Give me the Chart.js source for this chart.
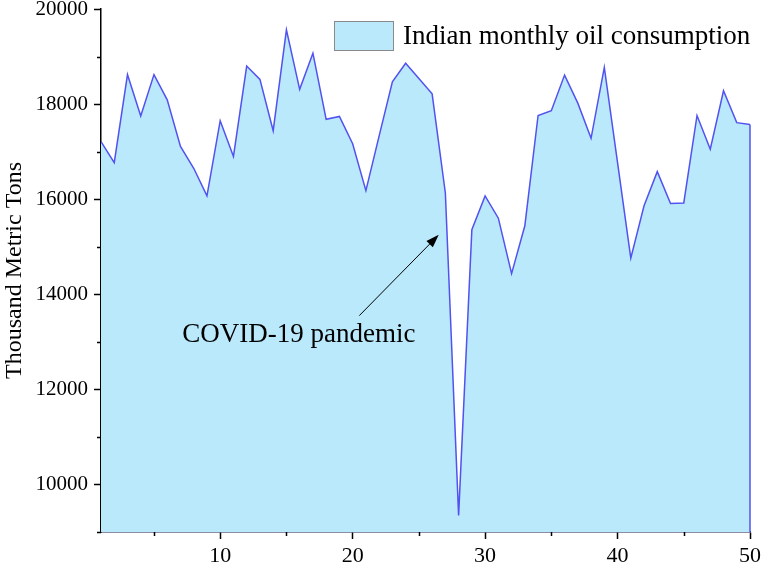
<!DOCTYPE html>
<html>
<head>
<meta charset="utf-8">
<script src="https://cdn.jsdelivr.net/npm/chart.js@4.4.1/dist/chart.umd.min.js"></script>
<style>
  html, body { margin: 0; padding: 0; background: #fff; }
  #wrap { width: 762px; height: 568px; }
</style>
</head>
<body>
<div id="wrap"><canvas id="chart" width="762" height="568"></canvas></div>
<script>
// month index 1..50
const months = [
  1, 2, 3, 4, 5, 6, 7, 8, 9, 10,
  11, 12, 13, 14, 15, 16, 17, 18, 19, 20,
  21, 22, 23, 24, 25, 26, 27, 28, 29, 30,
  31, 32, 33, 34, 35, 36, 37, 38, 39, 40,
  41, 42, 43, 44, 45, 46, 47, 48, 49, 50,
];
const consumption = [
  17210, 16770, 18620, 17750, 18620, 18090, 17110, 16650, 16070, 17650,
  16900, 18800, 18520, 17440, 19560, 18310, 19070, 17680, 17740, 17165,
  16180, 17330, 18470, 18860, 18540, 18215, 16130, 9350, 15360, 16070,
  15600, 14435, 15440, 17760, 17860, 18610, 18020, 17280, 18770, 16770,
  14760, 15860, 16580, 15910, 15920, 17760, 17050, 18280, 17610, 17570,
];
const xMajorTicks = [10, 20, 30, 40, 50];
const xMinorTicks = [5, 15, 25, 35, 45];
const yMajorTicks = [10000, 12000, 14000, 16000, 18000, 20000];
const yMinorTicks = [9000, 11000, 13000, 15000, 17000, 19000];

const serif = '"Liberation Serif", "Times New Roman", serif';
const fillColor = 'rgb(187, 233, 252)';
const lineColor = 'rgb(82, 82, 240)';

// minor ticks, right edge of the area, legend and the covid arrow
const extras = {
  id: 'extras',
  afterDatasetsDraw(chart) {
    const { ctx, chartArea, scales: { x, y } } = chart;
    ctx.save();

    // closing edge of the filled area on the right
    const lastX = x.getPixelForValue(months[months.length - 1]);
    ctx.strokeStyle = lineColor;
    ctx.lineWidth = 1.5;
    ctx.beginPath();
    ctx.moveTo(lastX, y.getPixelForValue(consumption[consumption.length - 1]));
    ctx.lineTo(lastX, chartArea.bottom);
    ctx.stroke();

    // minor ticks
    ctx.strokeStyle = '#000';
    ctx.lineWidth = 1.5;
    ctx.beginPath();
    yMinorTicks.forEach((v) => {
      const py = Math.round(y.getPixelForValue(v)) + 0.5;
      ctx.moveTo(chartArea.left, py);
      ctx.lineTo(chartArea.left - 4, py);
    });
    xMinorTicks.forEach((v) => {
      const px = Math.round(x.getPixelForValue(v)) + 0.5;
      ctx.moveTo(px, chartArea.bottom);
      ctx.lineTo(px, chartArea.bottom + 4);
    });
    ctx.stroke();

    // annotation arrow
    const tx = x.getPixelForValue(20.5), ty = y.getPixelForValue(13550);
    const hx = x.getPixelForValue(26.5), hy = y.getPixelForValue(15250);
    const ang = Math.atan2(hy - ty, hx - tx);
    ctx.strokeStyle = '#000';
    ctx.lineWidth = 1;
    ctx.beginPath();
    ctx.moveTo(tx, ty);
    ctx.lineTo(hx - 10 * Math.cos(ang), hy - 10 * Math.sin(ang));
    ctx.stroke();
    ctx.fillStyle = '#000';
    ctx.beginPath();
    ctx.moveTo(hx, hy);
    ctx.lineTo(hx - 13 * Math.cos(ang) + 4.5 * Math.sin(ang), hy - 13 * Math.sin(ang) - 4.5 * Math.cos(ang));
    ctx.lineTo(hx - 13 * Math.cos(ang) - 4.5 * Math.sin(ang), hy - 13 * Math.sin(ang) + 4.5 * Math.cos(ang));
    ctx.closePath();
    ctx.fill();

    ctx.font = '27px ' + serif;
    ctx.textAlign = 'left';
    ctx.textBaseline = 'alphabetic';
    ctx.fillText('COVID-19 pandemic', x.getPixelForValue(7.13), y.getPixelForValue(12990));

    // legend
    const bx = chartArea.right - 416, by = chartArea.top + 12;
    ctx.fillStyle = fillColor;
    ctx.fillRect(bx, by, 59, 29);
    ctx.strokeStyle = '#8a8a8a';
    ctx.lineWidth = 1;
    ctx.strokeRect(bx + 0.5, by + 0.5, 59, 29);
    ctx.fillStyle = '#000';
    ctx.textBaseline = 'middle';
    ctx.fillText(chart.data.datasets[0].label, bx + 69, by + 16);

    ctx.restore();
  },
};

new Chart(document.getElementById('chart'), {
  type: 'line',
  data: {
    labels: months,
    datasets: [{
      label: 'Indian monthly oil consumption',
      data: months.map((m, i) => ({ x: m, y: consumption[i] })),
      borderColor: lineColor,
      borderWidth: 1.5,
      backgroundColor: fillColor,
      fill: 'start',
      tension: 0,
      pointRadius: 0,
    }],
  },
  options: {
    responsive: false,
    animation: false,
    layout: { padding: { left: 0, right: 12, top: 9, bottom: 0 } },
    plugins: {
      legend: { display: false },
      tooltip: { enabled: false },
    },
    scales: {
      x: {
        type: 'linear',
        min: 1,
        max: 50,
        afterBuildTicks: (scale) => { scale.ticks = xMajorTicks.map((v) => ({ value: v })); },
        afterFit: (scale) => {
          scale.height = 36;
          scale.paddingLeft = 0;
          scale.paddingRight = 0;
        },
        grid: { drawOnChartArea: false, tickLength: 7, tickWidth: 1.5, color: '#000' },
        border: { color: '#1a1a50', width: 1.5 },
        ticks: { color: '#000', padding: 4, maxRotation: 0, font: { family: serif, size: 22 } },
      },
      y: {
        min: 9000,
        max: 20000,
        afterBuildTicks: (scale) => { scale.ticks = yMajorTicks.map((v) => ({ value: v })); },
        afterFit: (scale) => {
          scale.width = 101;
          scale.paddingTop = 0;
          scale.paddingBottom = 0;
        },
        grid: { drawOnChartArea: false, tickLength: 7, tickWidth: 1.5, color: '#000' },
        border: { color: '#000', width: 1.5 },
        ticks: {
          color: '#000',
          padding: 6,
          font: { family: serif, size: 21 },
          callback: (v) => String(v),
        },
        title: {
          display: true,
          text: 'Thousand Metric Tons',
          color: '#000',
          padding: 0,
          font: { family: serif, size: 24 },
        },
      },
    },
  },
  plugins: [extras],
});
</script>
</body>
</html>
